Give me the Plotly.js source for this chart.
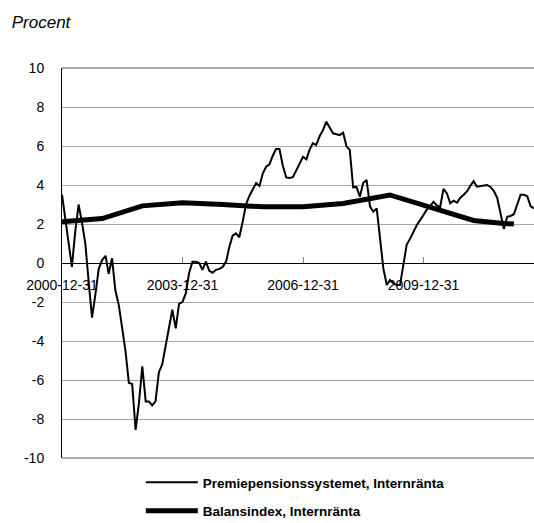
<!DOCTYPE html>
<html>
<head>
<meta charset="utf-8">
<script src="https://cdn.plot.ly/plotly-3.0.1.min.js"></script>
<style>html,body{margin:0;padding:0;background:#fff;}</style>
</head>
<body>
<div id="chart" style="width:534px;height:523px;"></div>
<script>
// Monthly series, first value at 2000-12-31
var startYear = 2000, startMonth = 12;
var ppmValues = [
  3.5, 2.2, 1.0, -0.2, 1.6, 3.0, 2.1, 1.0, -1.0, -2.8,
  -1.6, -0.3, 0.15, 0.37, -0.56, 0.24, -1.4, -2.15, -3.3, -4.5,
  -6.15, -6.2, -8.56, -7.2, -5.3, -7.1, -7.1, -7.3, -7.1, -5.6,
  -5.2, -4.2, -3.4, -2.4, -3.35, -2.1, -2.0, -1.55, -0.53, 0.07,
  0.07, 0.0, -0.35, 0.07, -0.4, -0.5, -0.35, -0.3, -0.2, 0.07,
  0.8, 1.4, 1.52, 1.32, 2.1, 3.0, 3.45, 3.8, 4.1, 3.95,
  4.6, 4.95, 5.05, 5.5, 5.85, 5.85, 5.0, 4.39, 4.36, 4.4,
  4.75, 5.1, 5.45, 5.32, 5.8, 6.15, 6.05, 6.5, 6.8, 7.25,
  6.95, 6.65, 6.6, 6.56, 6.68, 5.97, 5.8, 3.88, 3.9, 3.4,
  4.1, 4.26, 2.9, 2.63, 2.8, 1.3, -0.3, -1.13, -0.87, -1.04,
  -1.13, -1.13, 0.0, 0.95, 1.25, 1.6, 1.95, 2.2, 2.5, 2.75,
  2.9, 3.14, 2.95, 2.86, 3.8, 3.57, 3.06, 3.2, 3.1, 3.35,
  3.5, 3.68, 3.95, 4.2, 3.91, 3.95, 3.95, 4.0, 3.9, 3.7,
  3.35, 2.6, 1.75, 2.37, 2.41, 2.5, 3.0, 3.5, 3.5, 3.42,
  2.9, 2.8
];
var balansDates = ['2000-12-31','2001-12-31','2002-12-31','2003-12-31','2004-12-31',
  '2005-12-31','2006-12-31','2007-12-31','2009-02-28','2011-03-31','2011-12-31','2012-03-31'];
var balansValues = [2.12, 2.28, 2.93, 3.09, 3.0, 2.88, 2.89, 3.05, 3.49, 2.18, 2.03, 2.0];

var seriesNames = ['Premiepensionssystemet, Internränta', 'Balansindex, Internränta'];
var xTickVals = ['2000-12-31','2003-12-31','2006-12-31','2009-12-31'];
var xTickText = ['2000-12-31','2003-12-31','2006-12-31','2009-12-31'];
var yTickVals = [-10,-8,-6,-4,-2,0,2,4,6,8,10];
var yTickText = ['-10','-8','-6','-4','-2','0','2','4','6','8','10'];

function monthEnd(i) {
  var m0 = (startMonth - 1) + i;
  var y = startYear + Math.floor(m0 / 12);
  var m = (m0 % 12) + 1;
  var d = new Date(Date.UTC(y, m, 0)).getUTCDate();
  return y + '-' + (m < 10 ? '0' + m : m) + '-' + d;
}
var ppmDates = ppmValues.map(function(_, i){ return monthEnd(i); });

var sans = '"Liberation Sans", Arial, sans-serif';

var traces = [
  {x: ppmDates, y: ppmValues, type: 'scatter', mode: 'lines', name: seriesNames[0],
   legendgroup: 'a', line: {color: '#000', width: 2}},
  {x: balansDates, y: balansValues, type: 'scatter', mode: 'lines', name: seriesNames[1],
   legendgroup: 'b', line: {color: '#000', width: 5}}
];

var layout = {
  width: 534, height: 523,
  margin: {l: 62, r: 0, t: 68, b: 65, autoexpand: false},
  paper_bgcolor: '#fff', plot_bgcolor: '#fff',
  showlegend: true,
  title: {text: 'Procent', x: 0.022, xanchor: 'left', xref: 'container',
          y: 0.958, yanchor: 'middle', yref: 'container',
          font: {family: sans, size: 17, style: 'italic', color: '#000'}},
  xaxis: {
    type: 'date', range: ['2000-12-31', '2012-09-30'],
    anchor: 'free', position: 0.5,
    showline: true, linecolor: '#000', linewidth: 1,
    showgrid: false, zeroline: false,
    tickmode: 'array', tickvals: xTickVals, ticktext: xTickText,
    ticks: 'inside', ticklen: 6, tickcolor: '#888', tickwidth: 1,
    ticklabelstandoff: 9,
    tickfont: {family: sans, size: 14, color: '#000'}
  },
  yaxis: {
    range: [-10, 10], showline: true, linecolor: '#000', linewidth: 1,
    showgrid: true, gridcolor: '#a6a6a6', gridwidth: 1, zeroline: false,
    tickmode: 'array', tickvals: yTickVals, ticktext: yTickText,
    ticks: '', ticklabelstandoff: 14,
    tickfont: {family: sans, size: 14, color: '#000'}
  },
  legend: {
    x: 0.167, xanchor: 'left', y: -0.023, yanchor: 'top',
    orientation: 'v', itemwidth: 52, tracegroupgap: 8,
    font: {family: sans, size: 13.5, color: '#000', weight: 'bold'},
    bgcolor: 'rgba(0,0,0,0)'
  },
  shapes: [
    {type: 'line', xref: 'paper', yref: 'paper', x0: 0, x1: 1, y0: 1, y1: 1,
     line: {color: '#595959', width: 1}},
    {type: 'line', xref: 'paper', yref: 'paper', x0: 0, x1: 1, y0: 0, y1: 0,
     line: {color: '#595959', width: 1}}
  ]
};

Plotly.newPlot('chart', traces, layout, {displayModeBar: false, staticPlot: true});
</script>
</body>
</html>
